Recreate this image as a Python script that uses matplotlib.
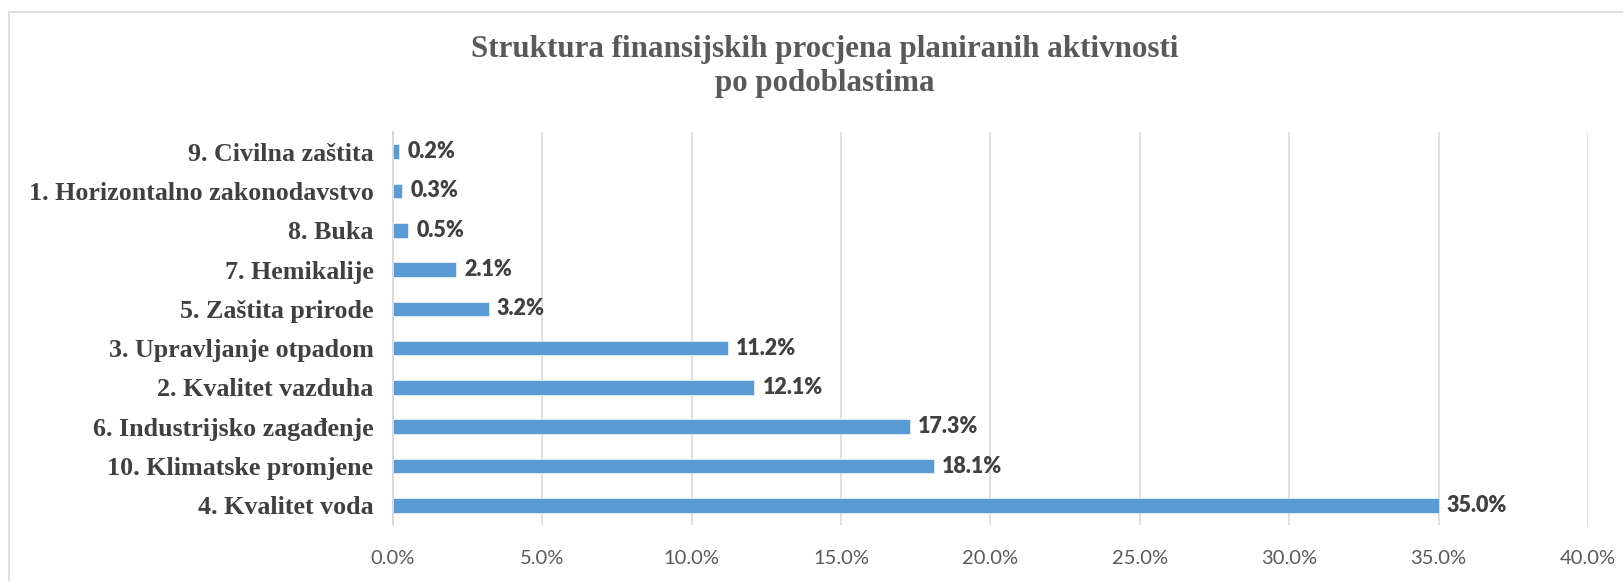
import matplotlib
matplotlib.use("Agg")
import matplotlib.pyplot as plt
from matplotlib.patches import Rectangle
from matplotlib.ticker import FuncFormatter, MultipleLocator

categories = [
    "9. Civilna zaštita",
    "1. Horizontalno zakonodavstvo",
    "8. Buka",
    "7. Hemikalije",
    "5. Zaštita prirode",
    "3. Upravljanje otpadom",
    "2. Kvalitet vazduha",
    "6. Industrijsko zagađenje",
    "10. Klimatske promjene",
    "4. Kvalitet voda",
]
values = [0.2, 0.3, 0.5, 2.1, 3.2, 11.2, 12.1, 17.3, 18.1, 35.0]
title_lines = ["Struktura finansijskih procjena planiranih aktivnosti", "po podoblastima"]

W, H = 1623, 581
fig = plt.figure(figsize=(W / 100, H / 100), dpi=100)
fig.patch.set_facecolor("white")

# outer chart border
fig.patches.append(Rectangle((9 / W, -0.1), 1.2, 1 - 12 / H + 0.1,
                             transform=fig.transFigure, fill=False,
                             edgecolor="#D9D9D9", linewidth=1.2, zorder=0))

left, right = 393 / W, 1588 / W
bottom, top = 1 - 525 / H, 1 - 132 / H
ax = fig.add_axes([left, bottom, right - left, top - bottom])

n = len(categories)
ypos = list(range(n))
ax.barh(ypos, values, height=0.37, color="#5B9BD5", edgecolor="white",
        linewidth=0.4, zorder=3)
ax.set_ylim(n - 0.5, -0.5)
ax.set_xlim(0, 40)
ax.xaxis.set_major_locator(MultipleLocator(5))
ax.xaxis.set_major_formatter(FuncFormatter(lambda v, p: f"{v:.1f}%"))
ax.set_yticks(ypos)
ax.set_yticklabels(categories, fontfamily="Liberation Serif", fontweight="bold",
                   fontsize=18.7, color="#404040")
for lab in ax.get_xticklabels():
    lab.set_fontfamily("Lato")
    lab.set_fontsize(14.5)
    lab.set_color("#595959")
ax.tick_params(axis="both", length=0)
ax.tick_params(axis="y", pad=14)
ax.tick_params(axis="x", pad=18)
ax.grid(axis="x", color="#D9D9D9", linewidth=1.1, zorder=0)
ax.set_axisbelow(True)
for s in ["top", "right", "bottom"]:
    ax.spines[s].set_visible(False)
ax.spines["left"].set_color("#D0D0D0")
ax.spines["left"].set_linewidth(1.1)

for y, v in zip(ypos, values):
    ax.annotate(f"{v:.1f}%", xy=(v, y), xytext=(6, 0), textcoords="offset points",
                va="center", ha="left", fontfamily="Lato", fontweight="heavy",
                fontsize=15.5, color="#404040", zorder=4)

fig.text(825 / W, 1 - 49 / H, title_lines[0], ha="center", va="center",
         fontfamily="Liberation Serif", fontweight="bold", fontsize=22.3, color="#595959")
fig.text(825 / W, 1 - 84 / H, title_lines[1], ha="center", va="center",
         fontfamily="Liberation Serif", fontweight="bold", fontsize=22.3, color="#595959")

fig.savefig("out.png", dpi=100, facecolor="white")
